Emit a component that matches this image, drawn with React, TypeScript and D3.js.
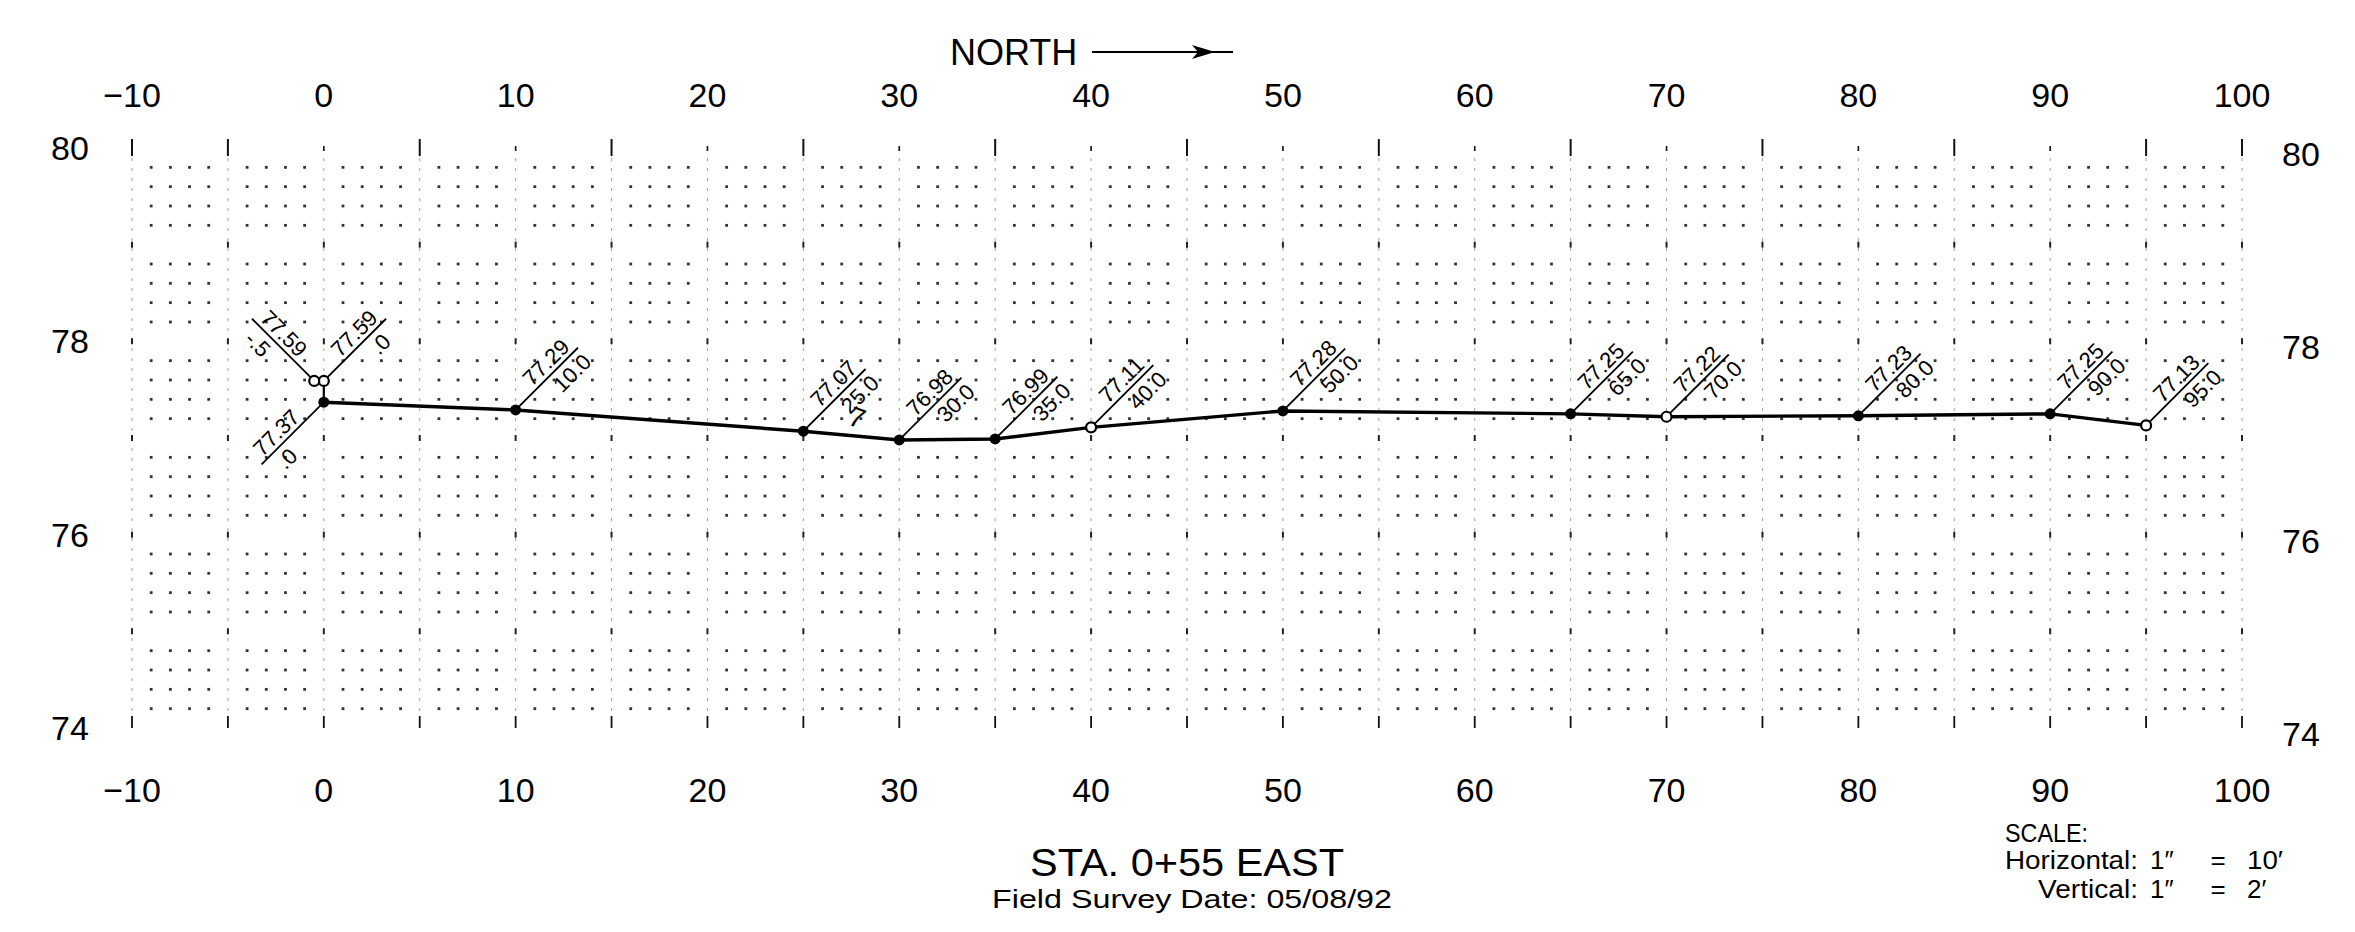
import React from "react";
import * as d3 from "d3";

// ---- data ----
const stations = [0, 10, 25, 30, 35, 40, 50, 65, 70, 80, 90, 95];
const elevations = [77.37, 77.29, 77.07, 76.98, 76.99, 77.11, 77.28, 77.25, 77.22, 77.23, 77.25, 77.13];
const stationLabels = [".0", "10.0", "25.0", "30.0", "35.0", "40.0", "50.0", "65.0", "70.0", "80.0", "90.0", "95.0"];
const openMarkers = [false, false, false, false, false, true, false, false, true, false, false, true];
const labelAngles = [135, -45, -45, -45, -45, -45, -45, -45, -45, -45, -45, -45];

const extraStations = [0, -0.5];
const extraElevations = [77.59, 77.59];
const extraLabels = [".0", "-.5"];
const extraAngles = [-45, -135];

const xTickValues = [-10, 0, 10, 20, 30, 40, 50, 60, 70, 80, 90, 100];
const yTickValues = [74, 76, 78, 80];

const W = 2355;
const H = 932;
const FONT = "'Liberation Sans', Arial, sans-serif";

const x = d3.scaleLinear().domain([-10, 100]).range([132, 2242]);
const y = d3.scaleLinear().domain([74, 80]).range([728, 148]);

function Label({ sx, el, sta, angle }: { sx: number; el: number; sta: string; angle: number }) {
  const px = x(sx);
  const py = y(el);
  const a = (angle * Math.PI) / 180;
  const d = [Math.cos(a), Math.sin(a)];
  const rot = Math.cos(a) >= 0 ? angle : angle + 180;
  const r = (rot * Math.PI) / 180;
  const rv = [Math.cos(r), Math.sin(r)];
  const n = [rv[1], -rv[0]];
  const L = 88;
  const e = [px + d[0] * 55 + n[0] * 12, py + d[1] * 55 + n[1] * 12];
  const s = [px + d[0] * 66 - n[0] * 14, py + d[1] * 66 - n[1] * 14];
  return (
    <g>
      <line x1={px} y1={py} x2={px + d[0] * L} y2={py + d[1] * L} stroke="#000" strokeWidth={1.8} />
      <text
        x={e[0]}
        y={e[1]}
        transform={`rotate(${rot},${e[0]},${e[1]})`}
        textAnchor="middle"
        dominantBaseline="central"
        fontSize={22}
        fontFamily={FONT}
      >
        {el.toFixed(2)}
      </text>
      <text
        x={s[0]}
        y={s[1]}
        transform={`rotate(${rot},${s[0]},${s[1]})`}
        textAnchor="middle"
        dominantBaseline="central"
        fontSize={22}
        fontFamily={FONT}
      >
        {sta}
      </text>
    </g>
  );
}

export default function App() {
  const dotXs = d3.range(-9, 100).filter((v) => v % 5 !== 0);
  const dotYs = d3.range(1, 30).filter((k) => k % 5 !== 0).map((k) => 74 + k * 0.2);
  const fiveXs = d3.range(-10, 101, 5);
  const intYs = [75, 76, 77, 78, 79];

  const line = d3
    .line<number>()
    .x((_, i) => x(stations[i]))
    .y((v) => y(v));

  const fmt = (v: number) => (v < 0 ? "\u2212" + Math.abs(v) : String(v));

  return (
    <svg width={W} height={H} style={{ position: "absolute", left: 0, top: 0, background: "#fff" }}>
      <rect x={0} y={0} width={W} height={H} fill="#fff" />
      {fiveXs.map((v) => (
        <line
          key={"v" + v}
          x1={x(v)}
          x2={x(v)}
          y1={y(80)}
          y2={y(74)}
          stroke="#a0a0a0"
          strokeWidth={1}
          strokeDasharray="3 7"
        />
      ))}
      {dotYs.map((yy) =>
        dotXs.map((xx) => (
          <rect key={xx + "_" + yy} x={x(xx) - 1.4} y={y(yy) - 1.4} width={2.8} height={2.8} fill="#333" />
        ))
      )}
      {intYs.map((yy) =>
        fiveXs.map((xx) => (
          <line key={"m" + xx + "_" + yy} x1={x(xx)} x2={x(xx)} y1={y(yy) - 3} y2={y(yy) + 3} stroke="#222" strokeWidth={2} />
        ))
      )}
      {fiveXs.map((xx) => {
        const tall = xx === -10 || xx === 100 || Math.abs(xx % 10) === 5;
        return (
          <g key={"t" + xx}>
            <line x1={x(xx)} x2={x(xx)} y1={y(80) - (tall ? 9 : 2)} y2={y(80) + (tall ? 8 : 3)} stroke="#111" strokeWidth={tall ? 2 : 1.6} />
            <line x1={x(xx)} x2={x(xx)} y1={y(74) - 12} y2={y(74)} stroke="#111" strokeWidth={1.8} />
          </g>
        );
      })}

      <path d={line(elevations) || ""} fill="none" stroke="#000" strokeWidth={3.4} />
      <line x1={x(0)} x2={x(0)} y1={y(77.37)} y2={y(77.59)} stroke="#000" strokeWidth={2.2} />

      {stations.map((s, i) => (
        <Label key={"l" + i} sx={s} el={elevations[i]} sta={stationLabels[i]} angle={labelAngles[i]} />
      ))}
      {extraStations.map((s, i) => (
        <Label key={"e" + i} sx={s} el={extraElevations[i]} sta={extraLabels[i]} angle={extraAngles[i]} />
      ))}

      {stations.map((s, i) =>
        openMarkers[i] ? (
          <circle key={"c" + i} cx={x(s)} cy={y(elevations[i])} r={5} fill="#fff" stroke="#000" strokeWidth={2.2} />
        ) : (
          <circle key={"c" + i} cx={x(s)} cy={y(elevations[i])} r={5.5} fill="#000" />
        )
      )}
      {extraStations.map((s, i) => (
        <circle key={"ec" + i} cx={x(s)} cy={y(extraElevations[i])} r={5} fill="#fff" stroke="#000" strokeWidth={2.2} />
      ))}

      <text
        x={x(27.8)}
        y={y(77.21)}
        textAnchor="middle"
        dominantBaseline="central"
        fontSize={28}
        fontFamily={FONT}
        transform={`rotate(20,${x(27.8)},${y(77.21)})`}
      >
        7
      </text>

      {xTickValues.map((v) => (
        <g key={"xl" + v}>
          <text x={x(v)} y={107} textAnchor="middle" fontSize={34} fontFamily={FONT}>
            {fmt(v)}
          </text>
          <text x={x(v)} y={802} textAnchor="middle" fontSize={34} fontFamily={FONT}>
            {fmt(v)}
          </text>
        </g>
      ))}
      {yTickValues.map((v) => (
        <g key={"yl" + v}>
          <text x={70} y={y(v)} textAnchor="middle" dominantBaseline="central" fontSize={34} fontFamily={FONT}>
            {v}
          </text>
          <text x={2301} y={y(v) + 6} textAnchor="middle" dominantBaseline="central" fontSize={34} fontFamily={FONT}>
            {v}
          </text>
        </g>
      ))}

      <text x={950} y={65} fontSize={36} fontFamily={FONT}>
        NORTH
      </text>
      <line x1={1092} x2={1233} y1={52} y2={52} stroke="#000" strokeWidth={2} />
      <path d="M1192,45 L1215,52 L1192,59 L1198,52 Z" fill="#000" />

      <text x={1030} y={876} textLength={314} lengthAdjust="spacingAndGlyphs" fontSize={38} fontFamily={FONT}>
        STA. 0+55 EAST
      </text>
      <text x={992} y={908} textLength={400} lengthAdjust="spacingAndGlyphs" fontSize={26} fontFamily={FONT}>
        Field Survey Date: 05/08/92
      </text>

      <text x={2005} y={842} textLength={83} lengthAdjust="spacingAndGlyphs" fontSize={25} fontFamily={FONT}>SCALE:</text>
      <text x={2005} y={869} textLength={133} lengthAdjust="spacingAndGlyphs" fontSize={25} fontFamily={FONT}>Horizontal:</text>
      <text x={2150} y={869} fontSize={26} fontFamily={FONT}>1″</text>
      <text x={2218} y={869} textAnchor="middle" fontSize={26} fontFamily={FONT}>=</text>
      <text x={2247} y={869} textLength={36} lengthAdjust="spacingAndGlyphs" fontSize={26} fontFamily={FONT}>10′</text>
      <text x={2138} y={898} textAnchor="end" textLength={100} lengthAdjust="spacingAndGlyphs" fontSize={25} fontFamily={FONT}>Vertical:</text>
      <text x={2150} y={898} fontSize={26} fontFamily={FONT}>1″</text>
      <text x={2218} y={898} textAnchor="middle" fontSize={26} fontFamily={FONT}>=</text>
      <text x={2247} y={898} fontSize={26} fontFamily={FONT}>2′</text>
    </svg>
  );
}
